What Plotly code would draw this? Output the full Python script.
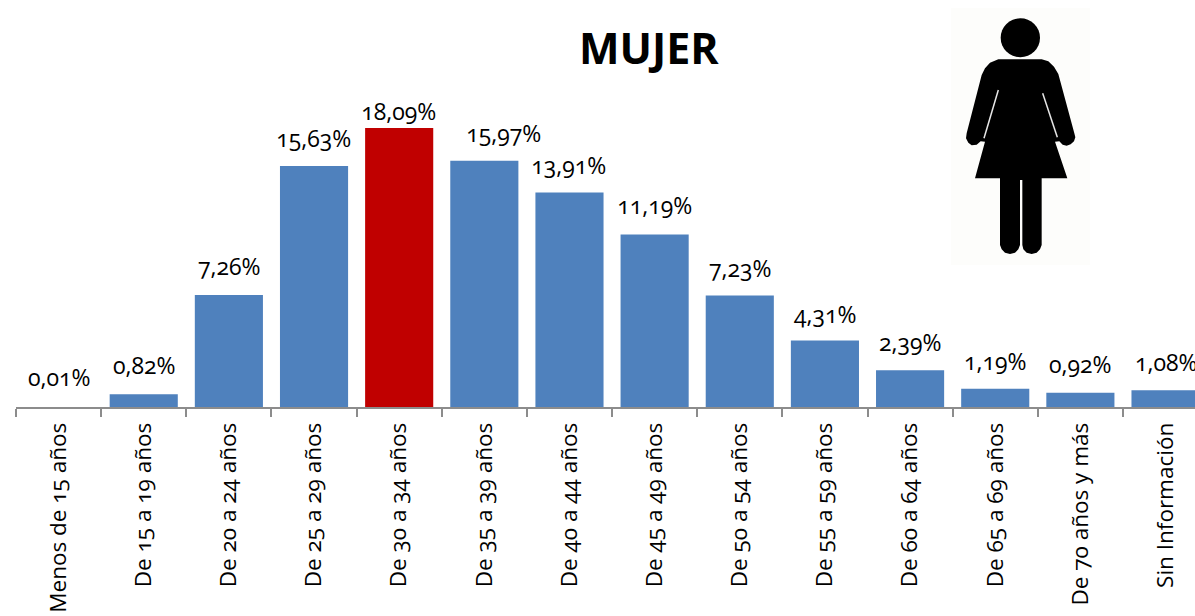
import plotly.graph_objects as go

categories = ["Menos de 15 años", "De 15 a 19 años", "De 20 a 24 años", "De 25 a 29 años",
              "De 30 a 34 años", "De 35 a 39 años", "De 40 a 44 años", "De 45 a 49 años",
              "De 50 a 54 años", "De 55 a 59 años", "De 60 a 64 años", "De 65 a 69 años",
              "De 70 años y más", "Sin Información"]
values = [0.01, 0.82, 7.26, 15.63, 18.09, 15.97, 13.91, 11.19, 7.23, 4.31, 2.39, 1.19, 0.92, 1.08]
labels = ["0,01%", "0,82%", "7,26%", "15,63%", "18,09%", "15,97%", "13,91%", "11,19%",
          "7,23%", "4,31%", "2,39%", "1,19%", "0,92%", "1,08%"]
highlight = "De 30 a 34 años"
title_text = "MUJER"

W, H = 1195, 616
L, B = 16, 209
base_px = H - B
PX_PER_UNIT = 15.42
CAT_W = 85.15
label_gap = [12, 11, 11, 10, -1, 10, 10, 11, 10, 9, 10, 10, 11, 10]
label_dx = [0, 0, 0, 0, 0, 20, 0, 0, 0, 0, 0, 0, 0, 0]
FONT = "Open Sans"


def px(x):
    return (x - L) / (W - L)


def py(y):
    return (base_px - y) / base_px


def zoom_pt(zx, zy):
    return f"{px(940 + zx / 3):.5f},{py(zy / 3):.5f}"


def poly(pts):
    return "M" + " L".join(zoom_pt(*p) for p in pts) + " Z"


def slit(a, b):
    return dict(type="line", xref="paper", yref="paper",
                x0=px(940 + a[0] / 3), y0=py(a[1] / 3), x1=px(940 + b[0] / 3), y1=py(b[1] / 3),
                line=dict(color="#e8e8e8", width=1.5))


fig = go.Figure(go.Bar(
    x=categories, y=values, width=0.8,
    marker=dict(color=["rgba(0,0,0,0)" if v < 0.05 else "#c00000" if c == highlight else "#4f81bd"
                       for c, v in zip(categories, values)],
                line=dict(width=0)),
    hoverinfo="skip",
))

annotations = [dict(x=c, y=v, xref="x", yref="y", text=t, showarrow=False, yanchor="bottom",
                    yshift=g, xshift=d, font=dict(family=FONT, size=23, color="#000"), xanchor="center")
               for c, v, t, g, d in zip(categories, values, labels, label_gap, label_dx)]
annotations.append(dict(x=px(649), y=py(47), xref="paper", yref="paper", text=f"<b>{title_text}</b>",
                        showarrow=False, xanchor="center", yanchor="middle",
                        font=dict(family=FONT, size=43, color="#000")))

silhouette = poly([
    (175, 178), (305, 178), (325, 184), (342, 200), (355, 222), (403, 400), (406, 412), (402, 424), (392, 433), (380, 437),
    (368, 434), (358, 424), (345, 425), (382, 535), (305, 535), (305, 735), (300, 748), (290, 758), (275, 762),
    (260, 758), (250, 748), (247, 735), (247, 540), (240, 540), (240, 735), (235, 748), (225, 758), (210, 762),
    (195, 758), (185, 748), (180, 735), (180, 535), (105, 535), (135, 425), (122, 424),
    (110, 434), (95, 436), (85, 428), (78, 415), (80, 400), (125, 225), (135, 205), (150, 188),
])
x0, x1 = px(940 + 182 / 3), px(940 + 300 / 3)
y0, y1 = py(172 / 3), py(55 / 3)
shapes = [
    dict(type="rect", xref="paper", yref="paper", x0=px(951), x1=px(1090), y0=py(265), y1=py(8),
         fillcolor="#fdfdfb", line=dict(width=0), layer="below"),
    dict(type="path", xref="paper", yref="paper", path=silhouette, fillcolor="#000", line=dict(width=0)),
    dict(type="circle", xref="paper", yref="paper", x0=x0, x1=x1, y0=y0, y1=y1, fillcolor="#000", line=dict(width=0)),
    slit((175, 270), (132, 415)),
    slit((308, 280), (352, 412)),
]

fig.update_layout(
    width=W, height=H, margin=dict(l=L, r=0, t=0, b=B, autoexpand=False),
    paper_bgcolor="#fff", plot_bgcolor="rgba(0,0,0,0)", showlegend=False,
    annotations=annotations, shapes=shapes,
    xaxis=dict(type="category", categoryorder="array", categoryarray=categories,
               range=[-0.5, (W - L) / CAT_W - 0.5], tickson="boundaries", ticks="outside", ticklen=8,
               tickwidth=1.5, tickcolor="#8c8c8c", showline=True, linecolor="#8c8c8c", linewidth=1.5,
               tickangle=-90, showgrid=False, zeroline=False, automargin=False, ticklabelstandoff=5,
               tickfont=dict(family=FONT, size=22.5, color="#000")),
    yaxis=dict(range=[0, base_px / PX_PER_UNIT], visible=False, fixedrange=True),
)

css = ("var s=document.createElement('style');"
       "s.textContent='svg text{font-variant-numeric:oldstyle-nums !important;"
       "font-feature-settings:\"onum\" 1 !important}';document.head.appendChild(s);"
       "document.documentElement.style.overflow='hidden';document.body.style.margin='0';")
fig.write_html("out.html", config={"displayModeBar": False}, post_script=css)
